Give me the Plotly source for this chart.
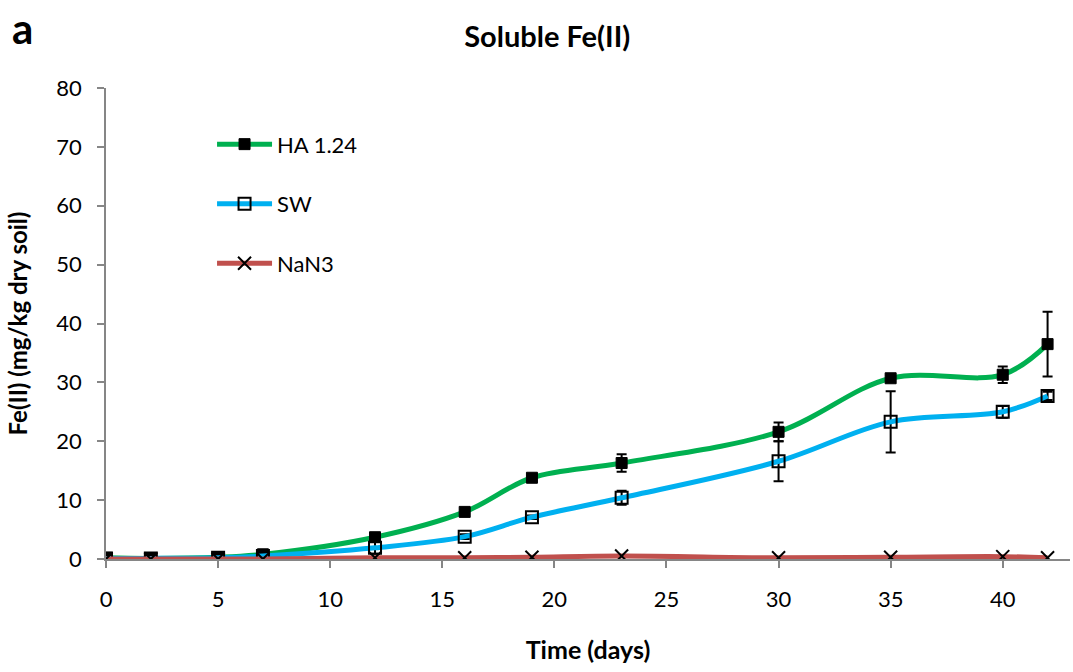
import plotly.graph_objects as go

# Sampling days
days = [0, 2, 5, 7, 12, 16, 19, 23, 30, 35, 40, 42]

# Soluble Fe(II) (mg/kg dry soil) per treatment
ha_vals = [0.2, 0.1, 0.3, 0.8, 3.7, 8.0, 13.8, 16.3, 21.6, 30.7, 31.3, 36.5]
ha_err = [0.2, 0.2, 0.2, 0.3, 0.4, 0.4, 0.4, 1.5, 1.6, 0.5, 1.4, 5.5]

sw_vals = [0.1, 0.1, 0.2, 0.5, 1.9, 3.8, 7.1, 10.4, 16.6, 23.3, 25.0, 27.7]
sw_err = [0.1, 0.1, 0.2, 0.3, 1.0, 0.4, 0.3, 1.2, 3.4, 5.2, 1.0, 0.7]

nan3_vals = [0.0, 0.0, 0.0, 0.0, 0.2, 0.2, 0.3, 0.5, 0.2, 0.3, 0.4, 0.2]

x_ticks = [0, 5, 10, 15, 20, 25, 30, 35, 40]
y_ticks = [0, 10, 20, 30, 40, 50, 60, 70, 80]

FONT = "Lato, Carlito, Calibri, sans-serif"
AXIS_GREY = "#868686"

fig = go.Figure()

fig.add_trace(go.Scatter(
    x=days, y=ha_vals, name="HA 1.24", legendgroup="ha",
    mode="lines+markers",
    line=dict(color="#00B050", width=5, shape="spline", smoothing=1.0),
    marker=dict(symbol="square", size=11, color="black",
                line=dict(color="black", width=1)),
    error_y=dict(type="data", array=ha_err, visible=True,
                 color="black", thickness=2, width=5),
))

fig.add_trace(go.Scatter(
    x=days, y=sw_vals, name="SW", legendgroup="sw",
    mode="lines+markers",
    line=dict(color="#00B0F0", width=5, shape="spline", smoothing=1.0),
    marker=dict(symbol="square-open", size=12, color="black",
                line=dict(color="black", width=2)),
    error_y=dict(type="data", array=sw_err, visible=True,
                 color="black", thickness=2, width=5),
))

fig.add_trace(go.Scatter(
    x=days, y=nan3_vals, name="NaN3", legendgroup="nan3",
    mode="lines+markers",
    line=dict(color="#C0504D", width=5, shape="spline", smoothing=1.0),
    marker=dict(symbol="x-thin", size=13, color="black",
                line=dict(color="black", width=2)),
))

fig.update_layout(
    width=1073, height=672,
    margin=dict(l=106, r=3, t=88, b=113),
    paper_bgcolor="white", plot_bgcolor="white",
    font=dict(family=FONT, size=22, color="black"),
    title=dict(text="<b>Soluble Fe(II)</b>", x=0.51, xanchor="center",
               y=0.945, yanchor="middle", font=dict(size=29)),
    showlegend=True,
    legend=dict(x=0.11, y=0.925, xanchor="left", yanchor="top",
                bgcolor="rgba(0,0,0,0)", tracegroupgap=28, itemwidth=55,
                font=dict(size=22)),
    xaxis=dict(
        range=[0, 43], tickvals=x_ticks, ticktext=[str(v) for v in x_ticks],
        showline=True, linecolor=AXIS_GREY, linewidth=1.5,
        ticks="outside", ticklen=7, tickcolor=AXIS_GREY, tickwidth=1.5,
        showgrid=False, zeroline=False, ticklabelstandoff=13,
        title=dict(text="<b>Time (days)</b>", standoff=30, font=dict(size=25)),
    ),
    yaxis=dict(
        range=[0, 80], tickvals=y_ticks, ticktext=[str(v) for v in y_ticks],
        showline=True, linecolor=AXIS_GREY, linewidth=1.5,
        ticks="outside", ticklen=7, tickcolor=AXIS_GREY, tickwidth=1.5,
        showgrid=False, zeroline=False, ticklabelstandoff=11,
        title=dict(text="<b>Fe(II) (mg/kg dry soil)</b>", standoff=22,
                   font=dict(size=24)),
    ),
    annotations=[dict(text="<b>a</b>", x=-0.087, y=1.184, xref="paper",
                      yref="paper", xanchor="center", yanchor="top",
                      showarrow=False, font=dict(size=42))],
)

fig.write_html("out.html")
